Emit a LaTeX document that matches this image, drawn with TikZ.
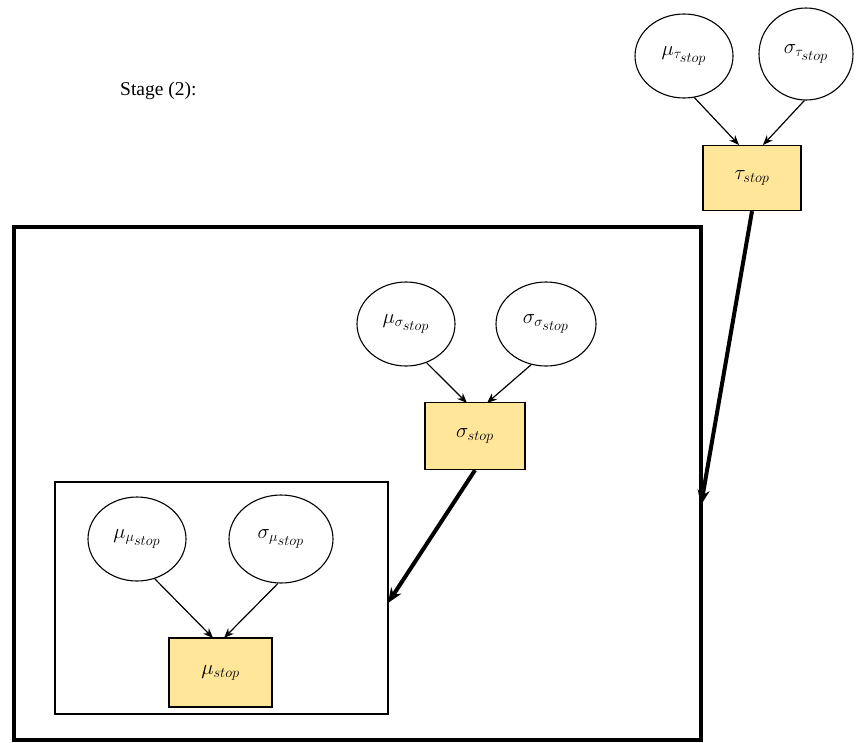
\documentclass[tikz,border=0pt]{standalone}
\usepackage{fontspec}
\setmainfont{Liberation Serif}
\usetikzlibrary{shapes.geometric,arrows.meta}
\definecolor{boxfill}{HTML}{FFE699}
\tikzset{
  lbl/.style={font=\fontsize{20}{24}\selectfont},
  var/.style={draw=black, line width=1.1pt, ellipse, minimum width=98pt, minimum height=84pt, inner sep=0pt, lbl},
  param/.style={draw=black, line width=1.3pt, fill=boxfill, rectangle, minimum width=98pt, minimum height=65pt, inner sep=0pt, lbl},
  thin arrow/.style={-{Stealth[length=10pt,width=8pt]}, line width=1.2pt},
  thick arrow/.style={-{Stealth[length=15pt,width=12pt]}, line width=4pt},
  plate/.style={draw=black, line width=1.3pt},
  bigplate/.style={draw=black, line width=4.2pt}
}
\begin{document}
\begin{tikzpicture}[x=1pt,y=-1pt]
\useasboundingbox (0,0) rectangle (856,742);
% label
\node[anchor=base west, font=\fontsize{19.5}{23}\selectfont, inner sep=0pt] (stage) at (120,95) {Stage (2):};
% plates
\draw[bigplate] (14,227) rectangle (701,740);
\draw[plate] (55,482) rectangle (388,714);
\coordinate (bigright) at (701,505);
\coordinate (innerright) at (388,603);
% tau level
\node[var] (mutau) at (684,56) {$\mu_{\tau_{\scriptstyle stop}}$};
\node[var, minimum width=94pt, minimum height=92pt] (sigtau) at (806,54) {$\sigma_{\tau_{\scriptstyle stop}}$};
\node[param] (tau) at (752,178) {$\tau_{stop}$};
\coordinate (tauL) at (739,145);
\coordinate (tauR) at (763,145);
\draw[thin arrow] (mutau.-76) -- (tauL);
\draw[thin arrow] (sigtau.-92) -- (tauR);
\draw[thick arrow] (tau.south) -- (bigright);
% sigma level
\node[var] (musig) at (406,324) {$\mu_{\sigma_{\scriptstyle stop}}$};
\node[var, minimum width=100pt] (sigsig) at (546,324) {$\sigma_{\sigma_{\scriptstyle stop}}$};
\node[param, minimum width=100pt, minimum height=67pt] (sig) at (475,436) {$\sigma_{stop}$};
\coordinate (sigL) at (467,403);
\coordinate (sigR) at (487,403);
\draw[thin arrow] (musig.-62) -- (sigL);
\draw[thin arrow] (sigsig.-110) -- (sigR);
\draw[thick arrow] (sig.south) -- (innerright);
% mu level
\node[var] (mumu) at (137,539) {$\mu_{\mu_{\scriptstyle stop}}$};
\node[var, minimum width=104pt, minimum height=88pt] (sigmu) at (281,539) {$\sigma_{\mu_{\scriptstyle stop}}$};
\node[param, minimum width=103pt, minimum height=69pt] (mu) at (220.5,672.5) {$\mu_{stop}$};
\coordinate (muL) at (213,638);
\coordinate (muR) at (224,638);
\draw[thin arrow] (mumu.-66) -- (muL);
\draw[thin arrow] (sigmu.-94) -- (muR);
\end{tikzpicture}
\end{document}
